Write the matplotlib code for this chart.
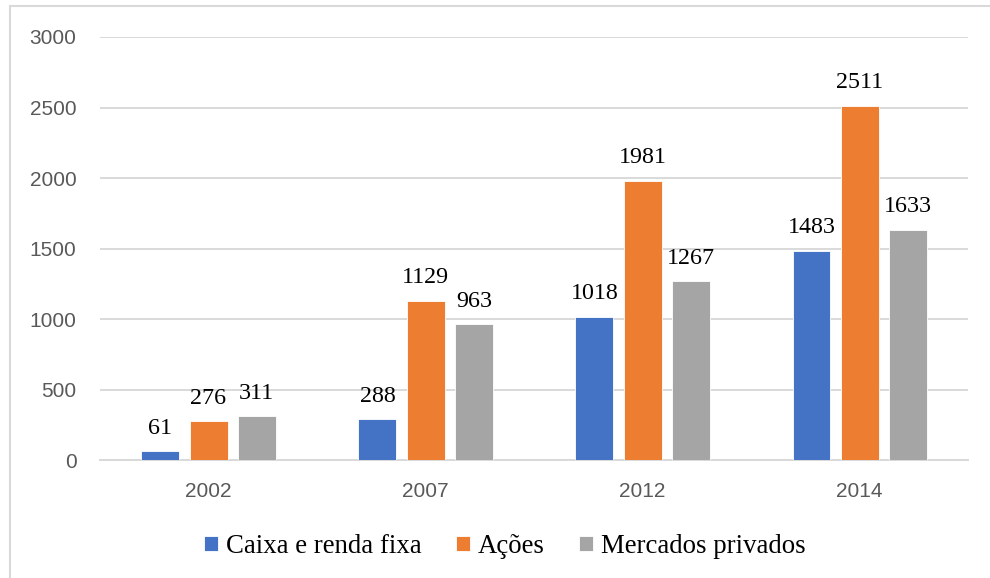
import numpy as np
import matplotlib.pyplot as plt
from matplotlib.patches import Rectangle

anos = ["2002", "2007", "2012", "2014"]
series = ["Caixa e renda fixa", "Ações", "Mercados privados"]
caixa = [61, 288, 1018, 1483]
acoes = [276, 1129, 1981, 2511]
privados = [311, 963, 1267, 1633]
cores = ["#4472C4", "#ED7D31", "#A5A5A5"]

fig = plt.figure(figsize=(9.9, 5.78), dpi=100)
ax = fig.add_axes([0.101, 0.204, 0.877, 0.732])

x = np.arange(len(anos))
largura = 0.175
passo = 0.222
for i, (vals, nome, cor) in enumerate(zip([caixa, acoes, privados], series, cores)):
    barras = ax.bar(x + (i - 1) * passo, vals, largura, color=cor, label=nome,
                    edgecolor="white", linewidth=0.6, zorder=3)
    ax.bar_label(barras, padding=9, fontsize=17.3, family="Liberation Serif", color="black")

ax.set_xlim(-0.5, 3.5)
ax.set_ylim(0, 3000)
ax.set_yticks(range(0, 3001, 500))
ax.set_xticks(x)
ax.set_xticklabels(anos)
ax.grid(axis="y", color="#D9D9D9", linewidth=1.4, zorder=0)
for s in ["top", "right", "left"]:
    ax.spines[s].set_visible(False)
ax.spines["bottom"].set_color("#D9D9D9")
ax.spines["bottom"].set_linewidth(1.4)
ax.tick_params(length=0, labelsize=15, labelcolor="#595959", pad=17)
ax.tick_params(axis="x", pad=16)
for lab in ax.get_xticklabels() + ax.get_yticklabels():
    lab.set_family("Liberation Sans")

leg = fig.legend(loc="center", bbox_to_anchor=(0.51, 0.055), ncol=3, frameon=False,
                 prop={"family": "Liberation Serif", "size": 19.3},
                 handlelength=0.5, handleheight=0.5, handletextpad=0.3, columnspacing=1.3)

fig.patches.append(Rectangle((10 / 990, -0.1), 1.2, 1.1 - 6 / 578, transform=fig.transFigure,
                             fill=False, edgecolor="#D9D9D9", linewidth=1.5))

fig.savefig("out.png")
